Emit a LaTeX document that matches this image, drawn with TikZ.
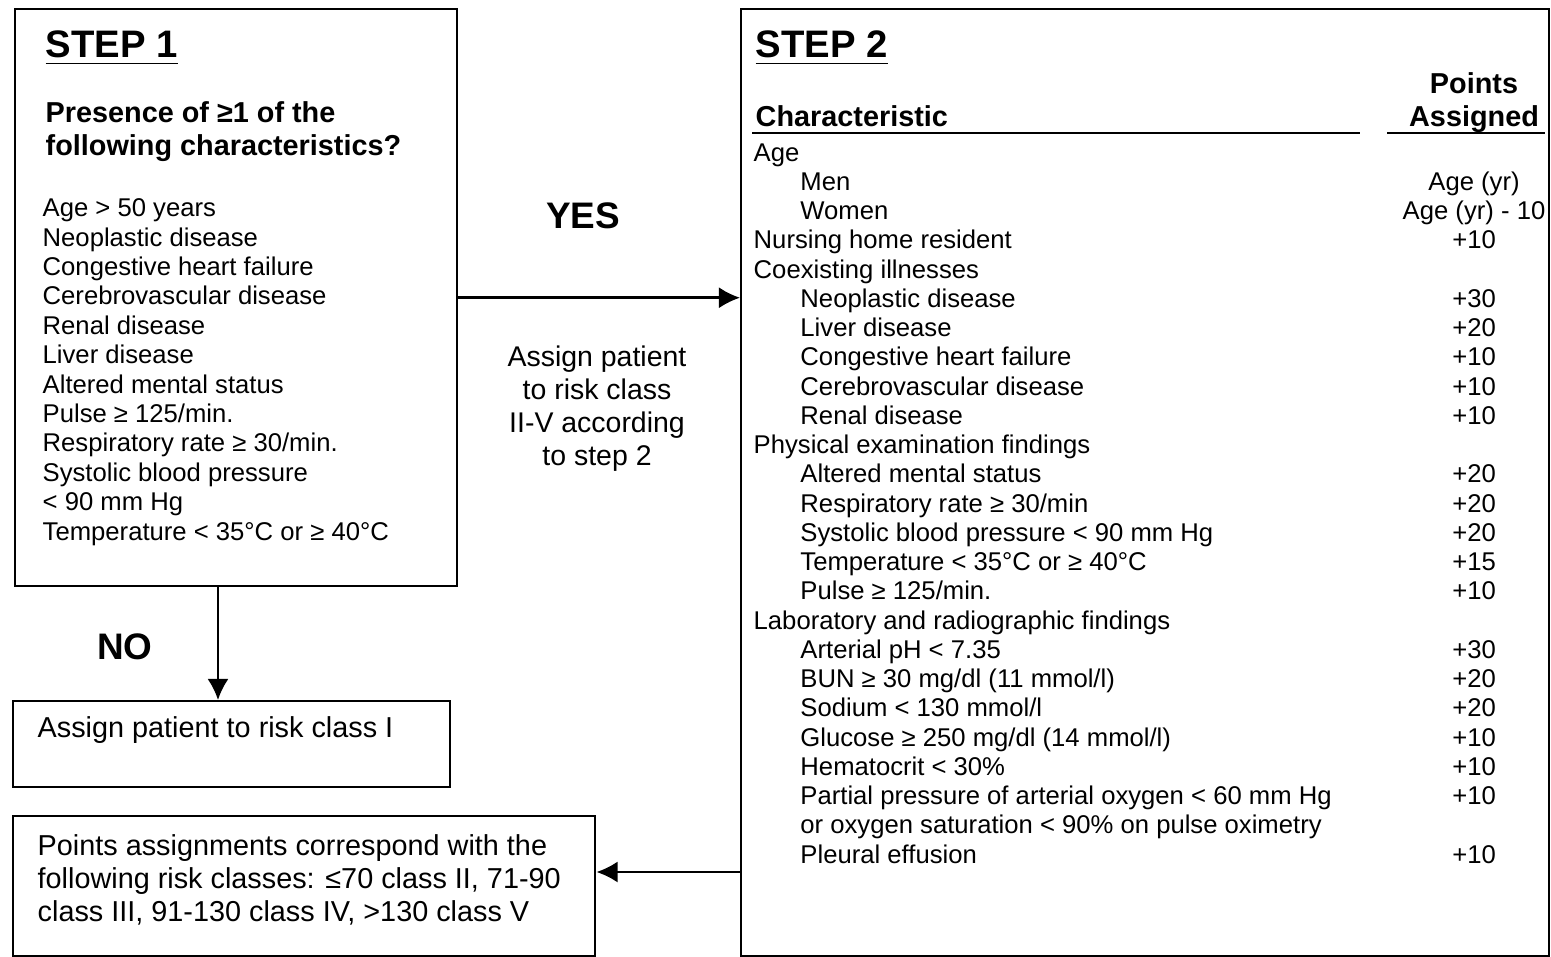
\documentclass[tikz,border=0pt]{standalone}
\usepackage{fontspec}
\setmainfont{Liberation Sans}
\usetikzlibrary{arrows.meta}
\newcommand{\inset}{\hspace*{13.3pt}}

\begin{document}
\begin{tikzpicture}[
  box/.style={draw,line width=0.7pt,anchor=north west,inner sep=0pt},
  txt/.style={inner sep=0pt,anchor=base west,align=left},
  head/.style={txt,font=\fontsize{10.9}{12}\selectfont\bfseries},
  ask/.style={txt,font=\fontsize{8.2}{9.64}\selectfont\bfseries},
  small/.style={txt,font=\fontsize{7.3}{8.36}\selectfont},
  rows/.style={txt,font=\fontsize{7.3}{8.32}\selectfont},
  plain/.style={txt,font=\fontsize{8.2}{9.35}\selectfont},
  arr/.style={line width=0.7pt,-{Latex[length=6pt,width=6pt]}},
  rule/.style={line width=0.7pt}]

\useasboundingbox (0,0) rectangle (15.51,-9.56);

% boxes
\node[box,minimum width=4.42cm,minimum height=5.77cm] (step1) at (0.14,-0.08) {};
\node[box,minimum width=8.08cm,minimum height=9.47cm] (step2) at (7.40,-0.08) {};
\node[box,minimum width=4.37cm,minimum height=0.86cm] (riskI) at (0.12,-7.00) {};
\node[box,minimum width=5.82cm,minimum height=1.40cm] (scoring) at (0.12,-8.15) {};

% step 1
\node[head] (s1head) at (0.45,-0.58) {\underline{STEP 1}};
\node[ask] (s1ask) at (0.45,-1.56) {Presence of ≥1 of the\\following characteristics?};
\node[small] (s1list) at (0.42,-5.40) {Age > 50 years\\Neoplastic disease\\Congestive heart failure\\
  Cerebrovascular disease\\Renal disease\\Liver disease\\Altered mental status\\
  Pulse ≥ 125/min.\\Respiratory rate ≥ 30/min.\\Systolic blood pressure\\< 90 mm Hg\\
  Temperature < 35°C or ≥ 40°C};

% decisions
\node[font=\fontsize{10.5}{12}\selectfont\bfseries] (yes) at (5.83,-2.16) {YES};
\node[font=\fontsize{10.5}{12}\selectfont\bfseries] (no) at (1.25,-6.47) {NO};
\node[plain,anchor=base,align=center,font=\fontsize{8.1}{9.35}\selectfont] (assign)
  at (5.97,-4.65) {Assign patient\\to risk class\\II-V according\\to step 2};
\node[plain] (classI) at (0.37,-7.37) {Assign patient to risk class I};
\node[plain] (classes) at (0.37,-9.21) {Points assignments correspond with the\\
  following risk classes: ≤70 class II, 71-90\\class III, 91-130 class IV, >130 class V};

% step 2
\node[head] (s2head) at (7.55,-0.58) {\underline{STEP 2}};
\node[ask] (charhead) at (7.55,-1.27) {Characteristic};
\node[ask,anchor=base,align=center] (pointhead) at (14.74,-1.27) {Points\\Assigned};
\draw[rule] (7.52,-1.33) -- (13.60,-1.33);
\draw[rule] (13.87,-1.33) -- (15.45,-1.33);

\node[rows] (chars) at (7.53,-8.63) {Age\\\inset Men\\\inset Women\\Nursing home resident\\
  Coexisting illnesses\\\inset Neoplastic disease\\\inset Liver disease\\
  \inset Congestive heart failure\\\inset Cerebrovascular disease\\\inset Renal disease\\
  Physical examination findings\\\inset Altered mental status\\\inset Respiratory rate ≥ 30/min\\
  \inset Systolic blood pressure < 90 mm Hg\\\inset Temperature < 35°C or ≥ 40°C\\
  \inset Pulse ≥ 125/min.\\Laboratory and radiographic findings\\\inset Arterial pH < 7.35\\
  \inset BUN ≥ 30 mg/dl (11 mmol/l)\\\inset Sodium < 130 mmol/l\\
  \inset Glucose ≥ 250 mg/dl (14 mmol/l)\\\inset Hematocrit < 30\%\\
  \inset Partial pressure of arterial oxygen < 60 mm Hg\\
  \inset or oxygen saturation < 90\% on pulse oximetry\\\inset Pleural effusion};
\node[rows,anchor=base,align=center] (points) at (14.74,-8.63) {Age (yr)\\Age (yr) - 10\\+10\\~\\
  +30\\+20\\+10\\+10\\+10\\~\\+20\\+20\\+20\\+15\\+10\\~\\+30\\+20\\+20\\+10\\+10\\+10\\~\\+10};

% arrows
\coordinate (nox) at (2.18,-6);
\coordinate (backy) at (7,-8.72);
\draw[arr] (step1.east) -- (step1.east -| step2.west);
\draw[arr] (step1.south -| nox) -- (riskI.north -| nox);
\draw[arr] (step2.west |- backy) -- (scoring.east |- backy);

\end{tikzpicture}
\end{document}
